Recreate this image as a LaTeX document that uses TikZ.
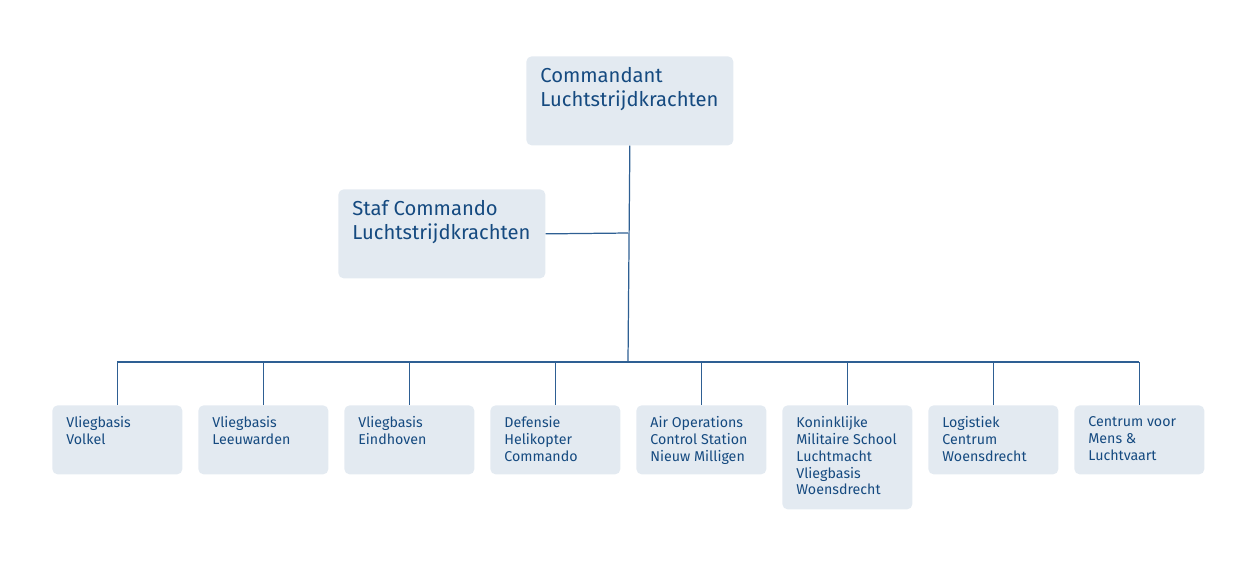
\documentclass[tikz,border=0pt]{standalone}
\usepackage{fontspec}
\setmainfont{Fira Sans}
\definecolor{lkblue}{HTML}{154A80}
\definecolor{lkbox}{HTML}{E3EAF1}
\definecolor{lkline}{HTML}{2E5F93}
\newcommand{\boxtext}[3]{\parbox[c][#1][t]{#2}{#3}}
\begin{document}
\begin{tikzpicture}
\tikzstyle{every node}=[fill=lkbox,rounded corners=3pt,anchor=north west,
text=lkblue,align=left,inner xsep=0.28cm,inner ysep=0.22cm]
\tikzstyle{bigbox}=[font=\fontsize{11.5}{13.6}\selectfont]
\tikzstyle{smallbox}=[font=\fontsize{8.1}{9.6}\selectfont]
\tikzstyle{link}=[draw=lkline,line width=0.7pt]
\useasboundingbox (0,0) rectangle (25,-11.62);

\node[bigbox] (cdt) at (10.52,-1.12) {\boxtext{1.34cm}{3.58cm}{Commandant\\Luchtstrijdkrachten}};
\node[bigbox] (staf) at (6.76,-3.78) {\boxtext{1.34cm}{3.58cm}{Staf Commando\\Luchtstrijdkrachten}};

\coordinate (bus) at (12.56,-7.24);
\coordinate (stafj) at (12.56,-4.66);
\coordinate (busw) at (2.34,-7.24);
\coordinate (buse) at (22.78,-7.24);
\draw[link] (cdt.south) -- (bus);
\draw[link] (staf.east) -- (stafj);
\draw[link] (busw) -- (buse);

\foreach \i/\txt/\h in {0/{Vliegbasis\\Volkel}/0.94cm,
  1/{Vliegbasis\\Leeuwarden}/0.94cm,
  2/{Vliegbasis\\Eindhoven}/0.94cm,
  3/{Defensie\\Helikopter\\Commando}/0.94cm,
  4/{Air Operations\\Control Station\\Nieuw Milligen}/0.94cm,
  5/{Koninklijke\\Militaire School\\Luchtmacht\\Vliegbasis\\Woensdrecht}/1.64cm,
  6/{Logistiek\\Centrum\\Woensdrecht}/0.94cm,
  7/{Centrum voor\\Mens \&\\Luchtvaart}/0.94cm}
{
  \node[smallbox] (unit\i) at ({1.04+2.92*\i},-8.1) {\boxtext{\h}{2.04cm}{\txt}};
  \draw[link] (unit\i.north) -- ++(0,0.86);
}
\end{tikzpicture}
\end{document}
